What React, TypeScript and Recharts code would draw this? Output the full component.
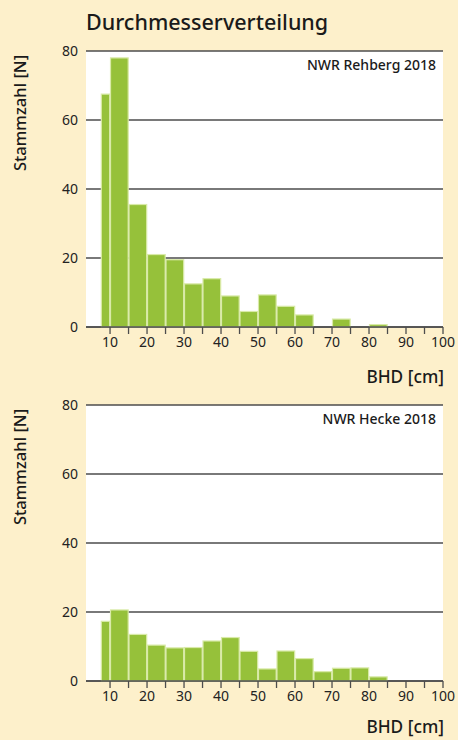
import React from "react";
import { BarChart, Bar, XAxis, YAxis, CartesianGrid } from "recharts";

// Bin edges (BHD in cm)
const binStart = [7.5, 10, 15, 20, 25, 30, 35, 40, 45, 50, 55, 60, 65, 70, 75, 80, 85, 90, 95];
const binEnd = [10, 15, 20, 25, 30, 35, 40, 45, 50, 55, 60, 65, 70, 75, 80, 85, 90, 95, 100];

// Stem counts per bin
const rehberg = [67.5, 78, 35.5, 21, 19.5, 12.5, 14, 9, 4.5, 9.3, 6, 3.5, 0, 2.3, 0, 0.7, 0, 0, 0];
const hecke = [17.3, 20.6, 13.5, 10.4, 9.6, 9.7, 11.6, 12.6, 8.6, 3.5, 8.7, 6.5, 2.7, 3.7, 3.8, 1.2, 0, 0, 0];

const xTicks = [10, 15, 20, 25, 30, 35, 40, 45, 50, 55, 60, 65, 70, 75, 80, 85, 90, 95, 100];
const yTicks = [0, 20, 40, 60, 80];

const mids = binStart.map((s, i) => (s + binEnd[i]) / 2);
const MIN_GAP = mids.slice(1).reduce((m, v, i) => Math.min(m, v - mids[i]), Infinity);

const makeData = (vals: number[]) =>
  binStart.map((lo, i) => ({ mid: mids[i], lo, hi: binEnd[i], value: vals[i] }));

const rehbergData = makeData(rehberg);
const heckeData = makeData(hecke);

const FONT = "'Noto Sans', 'Open Sans', sans-serif";
const BG = "#fdf0cb";
const GREEN = "#96c13a";
const EDGE = "#d9eaa8";

const HistBar = (props: any) => {
  const { x, y, width, height, payload } = props;
  if (!height || height <= 0 || !payload) return null;
  const ppu = width / MIN_GAP;
  const cx = x + width / 2;
  const w = (payload.hi - payload.lo) * ppu;
  return (
    <rect
      x={cx - w / 2 + 0.5}
      y={y}
      width={w - 1}
      height={height}
      fill={GREEN}
      stroke={EDGE}
      strokeWidth={1.2}
    />
  );
};

const Hist = ({ data }: { data: any[] }) => (
  <BarChart
    width={458}
    height={360}
    data={data}
    margin={{ top: 51, right: 15, bottom: 0, left: 0 }}
    barCategoryGap={0}
    barGap={0}
  >
    <CartesianGrid vertical={false} stroke="#4d4d4d" strokeWidth={1.3} fill="#ffffff" />
    <XAxis
      type="number"
      dataKey="mid"
      domain={[3.5, 100]}
      ticks={xTicks}
      interval={0}
      allowDataOverflow
      tickFormatter={(v: number) => (v % 10 === 0 ? String(v) : "")}
      axisLine={{ stroke: "#4d4d4d", strokeWidth: 1.3 }}
      tickLine={{ stroke: "#4d4d4d", strokeWidth: 1.3 }}
      tickSize={7}
      tickMargin={3}
      height={33}
      tick={{ fontSize: 14, fill: "#222", fontFamily: FONT }}
    />
    <YAxis
      type="number"
      domain={[0, 80]}
      ticks={yTicks}
      interval={0}
      axisLine={false}
      tickLine={false}
      width={86}
      tick={{ fontSize: 14, fill: "#222", fontFamily: FONT }}
    />
    <Bar dataKey="value" shape={HistBar} isAnimationActive={false} />
  </BarChart>
);

const textBase: React.CSSProperties = {
  position: "absolute",
  fontFamily: FONT,
  color: "#1a1a1a",
  whiteSpace: "nowrap",
  lineHeight: 1,
};

const YLabel = ({ cy }: { cy: number }) => (
  <div
    style={{
      ...textBase,
      left: 20,
      top: cy,
      fontSize: 16.5,
      fontWeight: 500,
      transform: "translate(-50%, -50%) rotate(-90deg)",
    }}
  >
    Stammzahl [N]
  </div>
);

export default function App() {
  return (
    <div
      style={{
        position: "absolute",
        left: 0,
        top: 0,
        width: 458,
        height: 740,
        background: BG,
        overflow: "hidden",
      }}
    >
      <div style={{ ...textBase, left: 86, top: 11, fontSize: 21.5, fontWeight: 500 }}>
        Durchmesserverteilung
      </div>

      <div style={{ position: "absolute", left: 0, top: 0 }}>
        <Hist data={rehbergData} />
      </div>
      <div style={{ position: "absolute", left: 0, top: 354 }}>
        <Hist data={heckeData} />
      </div>

      <YLabel cy={113} />
      <YLabel cy={467} />

      <div style={{ ...textBase, right: 22, top: 58, fontSize: 14, fontWeight: 500 }}>
        NWR Rehberg 2018
      </div>
      <div style={{ ...textBase, right: 22, top: 412, fontSize: 14, fontWeight: 500 }}>
        NWR Hecke 2018
      </div>

      <div style={{ ...textBase, right: 14, top: 368, fontSize: 17.3, fontWeight: 500 }}>
        BHD [cm]
      </div>
      <div style={{ ...textBase, right: 14, top: 718, fontSize: 17.3, fontWeight: 500 }}>
        BHD [cm]
      </div>
    </div>
  );
}
